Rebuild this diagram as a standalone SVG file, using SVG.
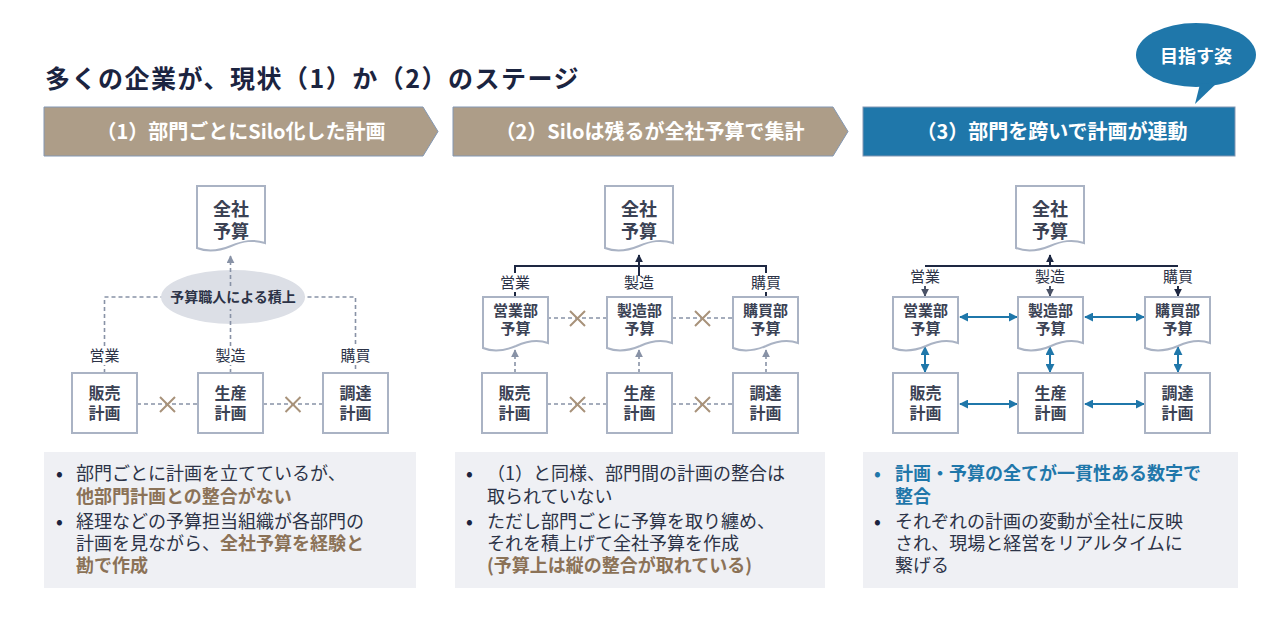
<svg xmlns="http://www.w3.org/2000/svg" width="1280" height="620" viewBox="0 0 1280 620">
<style>
text{font-family:"Noto Sans CJK JP","Noto Sans",sans-serif;}
.title{font-size:25px;font-weight:700;fill:#1b2440;letter-spacing:1.5px;}
.ban{font-size:20px;font-weight:700;fill:#ffffff;text-anchor:middle;}
.node{font-size:16px;font-weight:700;fill:#3b4254;text-anchor:middle;}
.dept{font-size:15px;font-weight:700;fill:#3b4254;text-anchor:middle;}
.big{font-size:18px;font-weight:700;fill:#3b4254;text-anchor:middle;}
.lab{font-size:15px;fill:#2c3347;text-anchor:middle;}
.box{fill:#ffffff;stroke:#aab3c4;stroke-width:2;}
.dash{fill:none;stroke:#8892a6;stroke-width:1.6;stroke-dasharray:4 3;}
.solid{fill:none;stroke:#1e2842;stroke-width:2;}
.blue{fill:none;stroke:#1f77aa;stroke-width:2;}
.xm{fill:none;stroke:#a8927a;stroke-width:2;}
.panel{fill:#eff0f4;}
.body{font-size:18px;fill:#2c3347;}
.bul{font-size:18px;font-weight:700;fill:#1b2440;}
.tan{font-weight:700;fill:#8b7257;}
.bl{font-weight:700;fill:#1f77aa;}
</style>
<defs>
<path id="docBig" d="M0,0 H68 V57 C56,53 46,55 34,60 C22,65 10,66 0,62 Z"/>
<path id="docSm" d="M0,0 H65 V46 C54,42 44,44 33,49 C21,54 10,55 0,51 Z"/>
<marker id="mg" viewBox="0 0 10 10" refX="9" refY="5" markerWidth="8" markerHeight="8" markerUnits="userSpaceOnUse" orient="auto-start-reverse"><path d="M0,0 L10,5 L0,10 Z" fill="#8892a6"/></marker>
<marker id="md" viewBox="0 0 10 10" refX="9" refY="5" markerWidth="8" markerHeight="8" markerUnits="userSpaceOnUse" orient="auto-start-reverse"><path d="M0,0 L10,5 L0,10 Z" fill="#1e2842"/></marker>
<marker id="mm" viewBox="0 0 10 10" refX="9" refY="5" markerWidth="8" markerHeight="8" markerUnits="userSpaceOnUse" orient="auto-start-reverse"><path d="M0,0 L10,5 L0,10 Z" fill="#4a5266"/></marker>
<marker id="mb" viewBox="0 0 10 10" refX="9" refY="5" markerWidth="9" markerHeight="9" markerUnits="userSpaceOnUse" orient="auto-start-reverse"><path d="M0,0 L10,5 L0,10 Z" fill="#1f77aa"/></marker>
</defs>

<rect width="1280" height="620" fill="#ffffff"/>

<text class="title" x="45" y="88">多くの企業が、現状（1）か（2）のステージ</text>

<g id="banner1">
<polygon points="44,107 423,107 438,131.5 423,156 44,156" fill="#ad9d88" stroke="#8397b3" stroke-width="1"/>
<text class="ban" x="241" y="139">（1）部門ごとにSilo化した計画</text>
</g>
<g id="banner2">
<polygon points="453,107 833,107 848,131.5 833,156 453,156" fill="#ad9d88" stroke="#8397b3" stroke-width="1"/>
<text class="ban" x="650" y="139">（2）Siloは残るが全社予算で集計</text>
</g>
<g id="banner3">
<rect x="863" y="107" width="372" height="49" fill="#1f77aa" stroke="#8397b3" stroke-width="1"/>
<text class="ban" x="1052" y="139">（3）部門を跨いで計画が連動</text>
</g>
<g id="bubble">
<ellipse cx="1196" cy="55" rx="60" ry="32" fill="#1f77aa"/>
<polygon points="1200,84 1195,104 1218,82" fill="#1f77aa"/>
<text class="ban" x="1196" y="63" style="font-size:18px">目指す姿</text>
</g>

<!-- Panel 1 -->
<g id="connectors1">
<path class="dash" d="M104.5,373 V365 M104.5,346 V297 H355.5 V346 M355.5,365 V373"/>
<ellipse cx="233" cy="297" rx="72" ry="27" fill="#dcdfe6"/>
<path class="dash" d="M230.5,373 V365 M230.5,346 V309 M230.5,286 V256" marker-end="url(#mg)"/>
<path class="dash" d="M137,404 H198 M263,404 H323 M547,318 H607 M672,318 H733 M547,404 H607 M672,404 H733"/>
<path class="xm" d="M160,397 L175,412 M175,397 L160,412 M285.5,397 L300.5,412 M300.5,397 L285.5,412"/>
</g>
<g id="p1-label-ellipse"><text x="233" y="302" style="font-size:14px;font-weight:700;fill:#2c3347;text-anchor:middle">予算職人による積上</text></g>
<g id="p1-labels">
<text class="lab" x="104.5" y="361">営業</text>
<text class="lab" x="230.5" y="361">製造</text>
<text class="lab" x="355.5" y="361">購買</text>
</g>
<g id="p1-doc"><use href="#docBig" x="197" y="186" class="box"/><text class="big" x="231" y="216">全社</text><text class="big" x="231" y="238">予算</text></g>
<g id="p1-sales"><rect class="box" x="72" y="373" width="65" height="60"/><text class="node" x="104.5" y="399">販売</text><text class="node" x="104.5" y="419">計画</text></g>
<g id="p1-prod"><rect class="box" x="198" y="373" width="65" height="60"/><text class="node" x="230.5" y="399">生産</text><text class="node" x="230.5" y="419">計画</text></g>
<g id="p1-proc"><rect class="box" x="323" y="373" width="65" height="60"/><text class="node" x="355.5" y="399">調達</text><text class="node" x="355.5" y="419">計画</text></g>

<!-- Panel 2 -->
<g id="connectors2">
<path class="solid" d="M515,273 V266 H766 V273 M515,292 V297 M766,292 V297"/>
<path class="solid" d="M639,276 V255" marker-end="url(#md)"/>
<path class="dash" d="M515,373 V350" marker-end="url(#mg)"/>
<path class="dash" d="M639,373 V350" marker-end="url(#mg)"/>
<path class="dash" d="M766,373 V350" marker-end="url(#mg)"/>
<path class="xm" d="M570,311 L585,326 M585,311 L570,326 M695,311 L710,326 M710,311 L695,326 M570,397 L585,412 M585,397 L570,412 M695,397 L710,412 M710,397 L695,412"/>
</g>
<g id="p2-labels">
<text class="lab" x="515" y="288">営業</text>
<text class="lab" x="639" y="288">製造</text>
<text class="lab" x="766" y="288">購買</text>
</g>
<g id="p2-doc"><use href="#docBig" x="605" y="186" class="box"/><text class="big" x="639" y="216">全社</text><text class="big" x="639" y="238">予算</text></g>
<g id="p2-bud1"><use href="#docSm" x="483" y="297" class="box"/><text class="dept" x="515.5" y="316">営業部</text><text class="dept" x="515.5" y="334">予算</text></g>
<g id="p2-bud2"><use href="#docSm" x="607" y="297" class="box"/><text class="dept" x="639.5" y="316">製造部</text><text class="dept" x="639.5" y="334">予算</text></g>
<g id="p2-bud3"><use href="#docSm" x="733" y="297" class="box"/><text class="dept" x="765.5" y="316">購買部</text><text class="dept" x="765.5" y="334">予算</text></g>
<g id="p2-sales"><rect class="box" x="482" y="373" width="65" height="60"/><text class="node" x="514.5" y="399">販売</text><text class="node" x="514.5" y="419">計画</text></g>
<g id="p2-prod"><rect class="box" x="607" y="373" width="65" height="60"/><text class="node" x="639.5" y="399">生産</text><text class="node" x="639.5" y="419">計画</text></g>
<g id="p2-proc"><rect class="box" x="733" y="373" width="65" height="60"/><text class="node" x="765.5" y="399">調達</text><text class="node" x="765.5" y="419">計画</text></g>

<!-- Panel 3 -->
<g id="connectors3">
<path class="solid" d="M925,266 H1178"/>
<path class="solid" d="M1050,266 V255" marker-end="url(#md)"/>
<path d="M925,286 V296" stroke="#4a5266" stroke-width="2" marker-end="url(#mm)"/>
<path d="M1050,286 V296" stroke="#4a5266" stroke-width="2" marker-end="url(#mm)"/>
<path d="M1178,286 V296" stroke="#1e2842" stroke-width="2" marker-end="url(#md)"/>
<path class="blue" d="M960,317 H1017" marker-start="url(#mb)" marker-end="url(#mb)"/>
<path class="blue" d="M1085,317 H1144" marker-start="url(#mb)" marker-end="url(#mb)"/>
<path class="blue" d="M960,404 H1017" marker-start="url(#mb)" marker-end="url(#mb)"/>
<path class="blue" d="M1085,404 H1144" marker-start="url(#mb)" marker-end="url(#mb)"/>
<path class="blue" d="M925,347 V372" marker-start="url(#mb)" marker-end="url(#mb)"/>
<path class="blue" d="M1050,347 V372" marker-start="url(#mb)" marker-end="url(#mb)"/>
<path class="blue" d="M1178,347 V372" marker-start="url(#mb)" marker-end="url(#mb)"/>
</g>
<g id="p3-labels">
<text class="lab" x="925" y="282">営業</text>
<text class="lab" x="1050" y="282">製造</text>
<text class="lab" x="1178" y="282">購買</text>
</g>
<g id="p3-doc"><use href="#docBig" x="1016" y="186" class="box"/><text class="big" x="1050" y="216">全社</text><text class="big" x="1050" y="238">予算</text></g>
<g id="p3-bud1"><use href="#docSm" x="893" y="297" class="box"/><text class="dept" x="925.5" y="316">営業部</text><text class="dept" x="925.5" y="334">予算</text></g>
<g id="p3-bud2"><use href="#docSm" x="1018" y="297" class="box"/><text class="dept" x="1050.5" y="316">製造部</text><text class="dept" x="1050.5" y="334">予算</text></g>
<g id="p3-bud3"><use href="#docSm" x="1145" y="297" class="box"/><text class="dept" x="1177.5" y="316">購買部</text><text class="dept" x="1177.5" y="334">予算</text></g>
<g id="p3-sales"><rect class="box" x="893" y="373" width="65" height="60"/><text class="node" x="925.5" y="399">販売</text><text class="node" x="925.5" y="419">計画</text></g>
<g id="p3-prod"><rect class="box" x="1018" y="373" width="65" height="60"/><text class="node" x="1050.5" y="399">生産</text><text class="node" x="1050.5" y="419">計画</text></g>
<g id="p3-proc"><rect class="box" x="1145" y="373" width="65" height="60"/><text class="node" x="1177.5" y="399">調達</text><text class="node" x="1177.5" y="419">計画</text></g>

<!-- Text panels -->
<g id="note1">
<rect class="panel" x="44" y="452" width="372" height="136"/>
<text class="bul" x="56" y="480">•</text>
<text class="body" x="76" y="480">部門ごとに計画を立てているが、</text>
<text class="body tan" x="76" y="503">他部門計画との整合がない</text>
<text class="bul" x="56" y="528">•</text>
<text class="body" x="76" y="528">経理などの予算担当組織が各部門の</text>
<text class="body" x="76" y="550">計画を見ながら、<tspan class="tan">全社予算を経験と</tspan></text>
<text class="body tan" x="76" y="572">勘で作成</text>
</g>
<g id="note2">
<rect class="panel" x="455" y="452" width="370" height="136"/>
<text class="bul" x="466" y="480">•</text>
<text class="body" x="487" y="480">（1）と同様、部門間の計画の整合は</text>
<text class="body" x="487" y="503">取られていない</text>
<text class="bul" x="466" y="528">•</text>
<text class="body" x="487" y="528">ただし部門ごとに予算を取り纏め、</text>
<text class="body" x="487" y="550">それを積上げて全社予算を作成</text>
<text class="body tan" x="487" y="572">(予算上は縦の整合が取れている)</text>
</g>
<g id="note3">
<rect class="panel" x="863" y="452" width="375" height="136"/>
<text class="bul" x="874" y="480" style="fill:#1f77aa">•</text>
<text class="body bl" x="895" y="480">計画・予算の全てが一貫性ある数字で</text>
<text class="body bl" x="895" y="503">整合</text>
<text class="bul" x="874" y="528">•</text>
<text class="body" x="895" y="528">それぞれの計画の変動が全社に反映</text>
<text class="body" x="895" y="550">され、現場と経営をリアルタイムに</text>
<text class="body" x="895" y="572">繋げる</text>
</g>
</svg>
